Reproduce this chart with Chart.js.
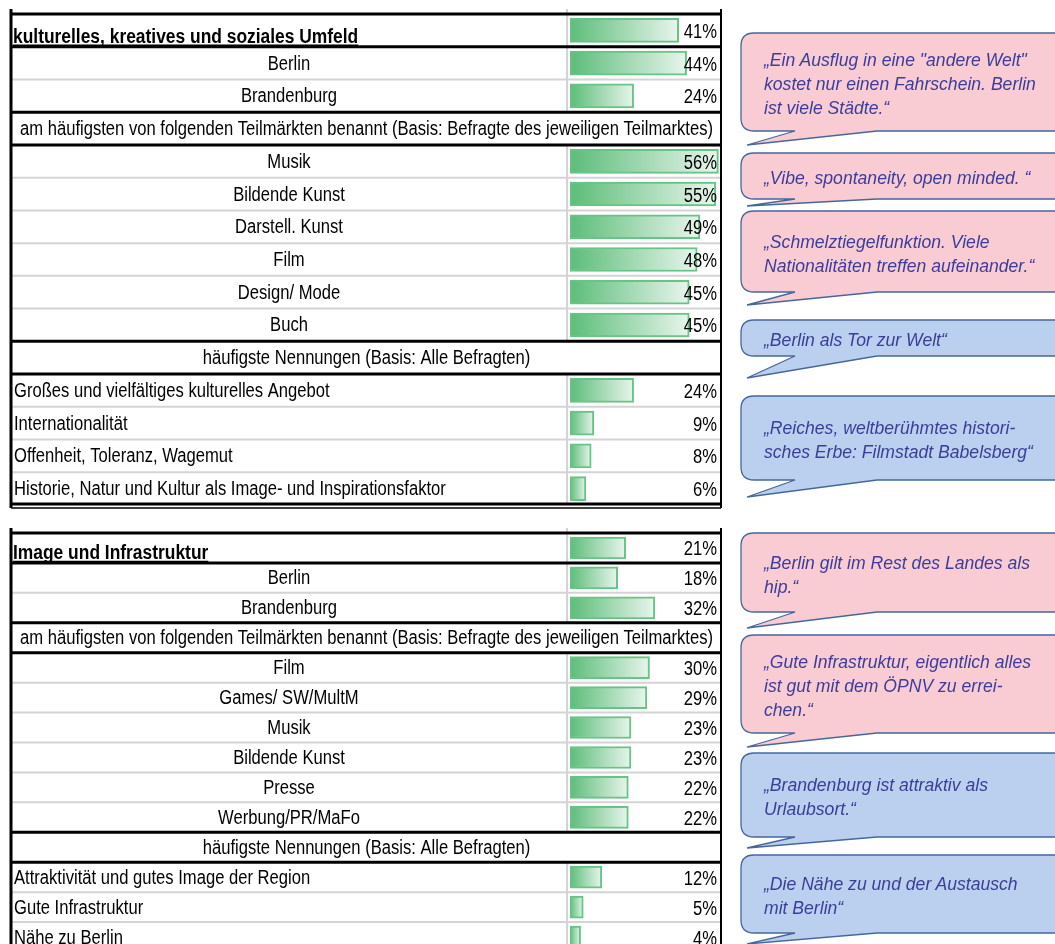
<!DOCTYPE html>
<html>
<head>
<meta charset="utf-8">
<script src="https://cdn.jsdelivr.net/npm/chart.js@4"></script>
<style>
  html, body { margin: 0; padding: 0; background: #fff; overflow: hidden; width: 1055px; height: 944px; }
  #wrapTop { position: absolute; left: 0; top: 0; width: 730px; height: 515px; }
  #wrapBottom { position: absolute; left: 0; top: 520px; width: 730px; height: 432px; }
  #quotes { position: absolute; left: 0; top: 0; }
</style>
</head>
<body>
<div id="wrapTop"><canvas id="cultChart"></canvas></div>
<div id="wrapBottom"><canvas id="imgChart"></canvas></div>
<svg id="quotes" width="1055" height="944" xmlns="http://www.w3.org/2000/svg"></svg>
<script>
// shared headers
const regions = ['Berlin', 'Brandenburg'];
const marketHeader = 'am häufigsten von folgenden Teilmärkten benannt (Basis: Befragte des jeweiligen Teilmarktes)';
const mentionHeader = 'häufigste Nennungen (Basis: Alle Befragten)';

// block 1
const cultTitle = 'kulturelles, kreatives und soziales Umfeld';
const cultTotal = 41;
const cultRegionValues = [44, 24];
const cultMarkets = ['Musik', 'Bildende Kunst', 'Darstell. Kunst', 'Film', 'Design/ Mode', 'Buch'];
const cultMarketValues = [56, 55, 49, 48, 45, 45];
const cultMentions = ['Großes und vielfältiges kulturelles Angebot', 'Internationalität', 'Offenheit, Toleranz, Wagemut', 'Historie, Natur und Kultur als Image- und Inspirationsfaktor'];
const cultMentionValues = [24, 9, 8, 6];

// block 2
const imgTitle = 'Image und Infrastruktur';
const imgTotal = 21;
const imgRegionValues = [18, 32];
const imgMarkets = ['Film', 'Games/ SW/MultM', 'Musik', 'Bildende Kunst', 'Presse', 'Werbung/PR/MaFo'];
const imgMarketValues = [30, 29, 23, 23, 22, 22];
const imgMentions = ['Attraktivität und gutes Image der Region', 'Gute Infrastruktur', 'Nähe zu Berlin'];
const imgMentionValues = [12, 5, 4];

// quotes (pink = Berlin, blue = Brandenburg)
const quoteTexts = [
  ['„Ein Ausflug in eine "andere Welt"', 'kostet nur einen Fahrschein. Berlin', 'ist viele Städte.“'],
  ['„Vibe, spontaneity, open minded. “'],
  ['„Schmelztiegelfunktion. Viele', 'Nationalitäten treffen aufeinander.“'],
  ['„Berlin als Tor zur Welt“'],
  ['„Reiches, weltberühmtes histori-', 'sches Erbe: Filmstadt Babelsberg“'],
  ['„Berlin gilt im Rest des Landes als', 'hip.“'],
  ['„Gute Infrastruktur, eigentlich alles', 'ist gut mit dem ÖPNV zu errei-', 'chen.“'],
  ['„Brandenburg ist attraktiv als', 'Urlaubsort.“'],
  ['„Die Nähe zu und der Austausch', 'mit Berlin“']
];
const quoteTones = ['pink', 'pink', 'pink', 'blue', 'blue', 'pink', 'pink', 'blue', 'blue'];

// Arial Narrow look: regular sans squeezed horizontally
const TABLE_FONT = '"Liberation Sans", Arial, sans-serif';

function buildRows(title, total, regionVals, markets, marketVals, mentions, mentionVals) {
  const labels = [title, ...regions, marketHeader, ...markets, mentionHeader, ...mentions];
  const values = [total, ...regionVals, null, ...marketVals, null, ...mentionVals];
  const kinds = ['title', ...regions.map(() => 'center'), 'header', ...markets.map(() => 'center'), 'header', ...mentions.map(() => 'left')];
  return { labels, values, kinds };
}

function barGradient(ctx) {
  const chart = ctx.chart;
  if (!chart.chartArea || ctx.raw == null) return 'rgba(0,0,0,0)';
  const x = chart.scales.x;
  const g = chart.ctx.createLinearGradient(x.getPixelForValue(0), 0, x.getPixelForValue(ctx.raw), 0);
  g.addColorStop(0, '#5cbd79');
  g.addColorStop(1, '#e8f5ec');
  return g;
}

function narrowText(c, text, x, y, align, sx) {
  c.save();
  c.translate(x, y);
  c.scale(sx, 1);
  c.textAlign = align;
  c.fillText(text, 0, 0);
  c.restore();
}

const L = 11, R = 720, MID = 567;
const SX = 0.83, SX_BOLD = 0.87;

const tablePlugin = {
  id: 'table',
  afterDatasetsDraw(chart, args, opts) {
    const c = chart.ctx, y = chart.scales.y, area = chart.chartArea;
    const labels = chart.data.labels, vals = chart.data.datasets[0].data, kinds = opts.kinds;
    const n = labels.length;
    const edge = i => i === 0 ? area.top : (i >= n ? area.bottom : (y.getPixelForValue(i - 1) + y.getPixelForValue(i)) / 2);
    c.save();

    // vertical gray line left of bars
    c.strokeStyle = '#d4d4d4';
    c.lineWidth = 2;
    for (let i = 0; i < n; i++) {
      if (vals[i] == null) continue;
      c.beginPath();
      c.moveTo(MID, i === 0 ? area.top - 5 : edge(i));
      c.lineTo(MID, edge(i + 1));
      c.stroke();
    }

    // horizontal rules
    for (let i = 1; i < n; i++) {
      const thick = ['title', 'header'].includes(kinds[i]) || ['title', 'header'].includes(kinds[i - 1]);
      c.strokeStyle = thick ? '#000' : '#d4d4d4';
      c.lineWidth = thick ? 3 : 2;
      c.beginPath();
      c.moveTo(L, edge(i));
      c.lineTo(R + 1, edge(i));
      c.stroke();
    }
    c.strokeStyle = '#000';
    c.lineWidth = 3;
    c.beginPath(); c.moveTo(L, area.top); c.lineTo(R + 1, area.top); c.stroke();
    c.beginPath(); c.moveTo(L, area.bottom - 1); c.lineTo(R + 1, area.bottom - 1); c.stroke();
    c.lineWidth = 1.5;
    c.beginPath(); c.moveTo(L, area.bottom + 3); c.lineTo(R + 1, area.bottom + 3); c.stroke();
    // side borders
    c.lineWidth = 3;
    c.beginPath(); c.moveTo(L, area.top - 5); c.lineTo(L, area.bottom + 3); c.stroke();
    c.lineWidth = 2;
    c.beginPath(); c.moveTo(R + 1, area.top - 5); c.lineTo(R + 1, area.bottom + 3); c.stroke();

    // labels
    c.fillStyle = '#000';
    c.textBaseline = 'middle';
    for (let i = 0; i < n; i++) {
      const cy = y.getPixelForValue(i) + 1;
      const k = kinds[i];
      if (k === 'title') {
        c.font = 'bold 20px ' + TABLE_FONT;
        c.textBaseline = 'alphabetic';
        const by = edge(1) - 4;
        narrowText(c, labels[i], L + 2, by, 'left', SX_BOLD);
        const w = c.measureText(labels[i]).width * SX_BOLD;
        c.lineWidth = 1.5;
        c.beginPath(); c.moveTo(L + 2, by + 2.5); c.lineTo(L + 2 + w, by + 2.5); c.stroke();
        c.textBaseline = 'middle';
      } else {
        c.font = '20px ' + TABLE_FONT;
        if (k === 'center') narrowText(c, labels[i], (L + MID) / 2, cy, 'center', SX);
        else if (k === 'header') narrowText(c, labels[i], (L + R) / 2 + 1, cy, 'center', SX);
        else narrowText(c, labels[i], L + 3, cy, 'left', SX);
      }
      if (vals[i] != null) {
        c.font = '20px ' + TABLE_FONT;
        narrowText(c, vals[i] + '%', R - 3, cy + 1, 'right', SX);
      }
    }
    c.restore();
  }
};

function makeChart(id, rows, padTop, padBottom, thickness) {
  return new Chart(document.getElementById(id), {
    type: 'bar',
    data: {
      labels: rows.labels,
      datasets: [{
        data: rows.values,
        backgroundColor: barGradient,
        borderColor: '#67c487',
        borderWidth: 2,
        borderSkipped: false,
        barThickness: thickness
      }]
    },
    options: {
      indexAxis: 'y',
      responsive: true,
      maintainAspectRatio: false,
      animation: false,
      layout: { padding: { left: 570, right: 10, top: padTop, bottom: padBottom } },
      scales: {
        x: { display: false, min: 0, max: 56.6 },
        y: { display: false }
      },
      plugins: {
        legend: { display: false },
        tooltip: { enabled: false },
        table: { kinds: rows.kinds }
      }
    },
    plugins: [tablePlugin]
  });
}

makeChart('cultChart', buildRows(cultTitle, cultTotal, cultRegionValues, cultMarkets, cultMarketValues, cultMentions, cultMentionValues), 14, 10, 24);
makeChart('imgChart', buildRows(imgTitle, imgTotal, imgRegionValues, imgMarkets, imgMarketValues, imgMentions, imgMentionValues), 13, 0, 22);

// speech bubbles
const bubbleBoxes = [[33, 131, 145], [153, 199, 206], [211, 292, 305], [320, 356, 378], [396, 480, 497],
                     [533, 612, 628], [635, 733, 747], [753, 837, 848], [855, 933, 944]];
const svg = document.getElementById('quotes');
const NS = 'http://www.w3.org/2000/svg';
quoteTexts.forEach((lines, i) => {
  const [t, b, tip] = bubbleBoxes[i];
  const x0 = 741, r = 13;
  const p = document.createElementNS(NS, 'path');
  p.setAttribute('d', `M ${x0 + r} ${t} H 1080 V ${b} H 877 L 747 ${tip} L 795 ${b} H ${x0 + r} Q ${x0} ${b} ${x0} ${b - r} V ${t + r} Q ${x0} ${t} ${x0 + r} ${t} Z`);
  p.setAttribute('fill', quoteTones[i] === 'pink' ? '#f9cbd3' : '#bad0ee');
  p.setAttribute('stroke', '#46679b');
  p.setAttribute('stroke-width', '1.3');
  svg.appendChild(p);
  const mid = (t + b) / 2;
  lines.forEach((line, j) => {
    const tx = document.createElementNS(NS, 'text');
    tx.setAttribute('x', 764);
    tx.setAttribute('y', mid - (lines.length - 1) * 12 + 8 + j * 24);
    tx.setAttribute('font-family', '"Liberation Sans", Arial, sans-serif');
    tx.setAttribute('font-style', 'italic');
    tx.setAttribute('font-size', '17.6');
    tx.setAttribute('fill', '#3b3d9a');
    tx.textContent = line;
    svg.appendChild(tx);
  });
});
</script>
</body>
</html>
